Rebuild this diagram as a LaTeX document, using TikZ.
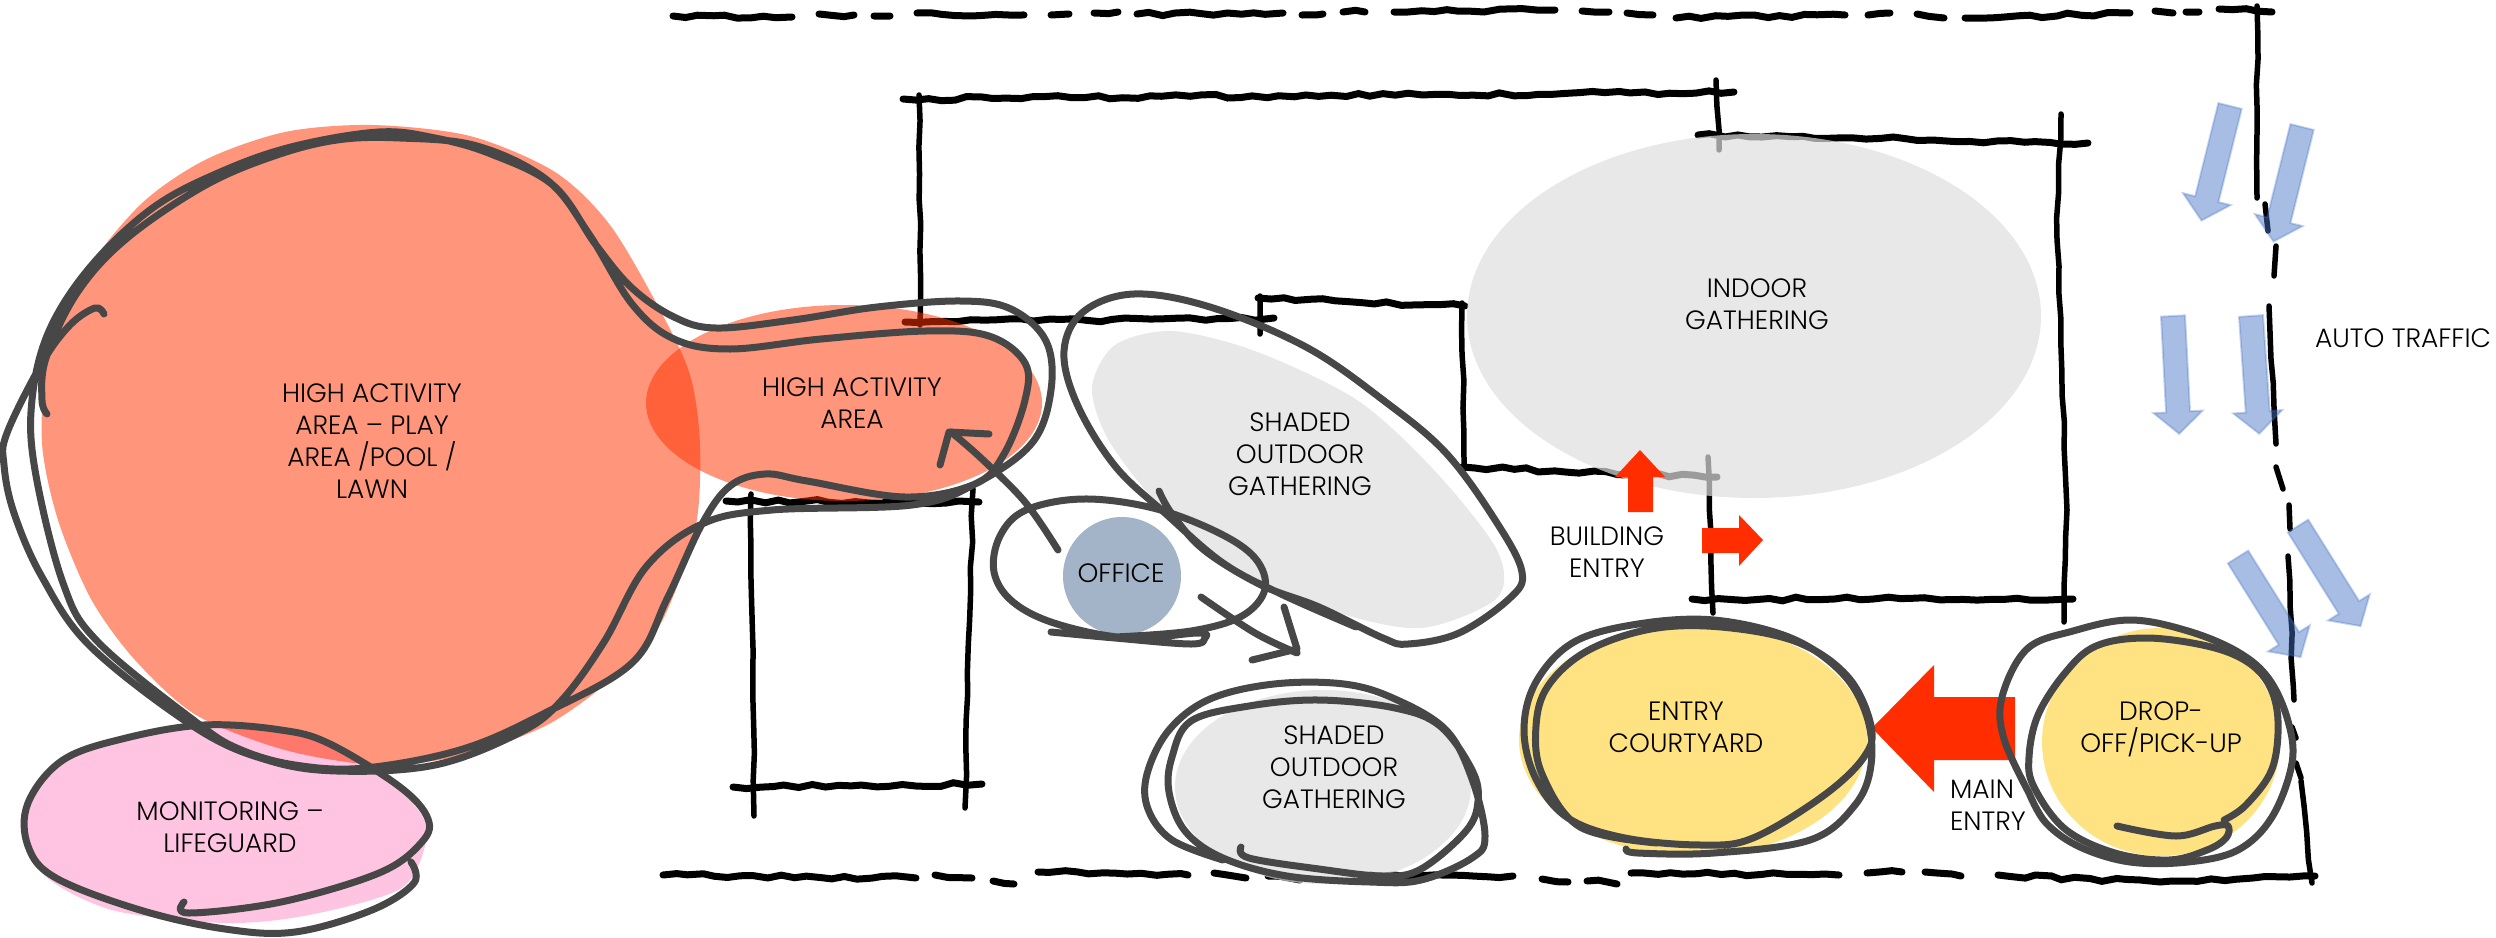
\documentclass[tikz,border=0pt]{standalone}
\usepackage{fontspec}
\setmainfont{Poppins Light}
\usetikzlibrary{decorations.pathmorphing}
\definecolor{sketchgrey}{HTML}{474747}
\definecolor{hotred}{HTML}{FF3300}
\definecolor{arrowred}{HTML}{FF2D00}
\definecolor{pinkzone}{HTML}{FFC4E1}
\definecolor{yellowzone}{HTML}{FFE382}
\definecolor{officeblue}{HTML}{A4B4C8}
\definecolor{carblue}{HTML}{4472C4}
\tikzset{
  wall/.style={line width=7pt,line cap=round,decorate,decoration={random steps,segment length=13,amplitude=2}},
  wallthin/.style={wall,line width=5.5pt,decoration={random steps,segment length=26,amplitude=1.2}},
  scribble/.style={draw=sketchgrey,line width=7pt,line cap=round,line join=round},
  activezone/.style={fill=hotred,fill opacity=.52},
  greyzone/.style={fill={rgb,255:red,222;green,222;blue,222},fill opacity=.7},
  zonetext/.style={align=center,yshift=2.5pt,font=\fontsize{26.5}{32}\selectfont,text=black},
  trafficarrow/.pic={
    \filldraw[fill=carblue,draw=carblue,fill opacity=.47,draw opacity=.3,line width=2pt]
      (-12,0) -- (12,0) -- (12,96) -- (24.5,96) -- (0,118) -- (-24.5,96) -- (-12,96) -- cycle;
  }
}
\pgfmathsetseed{27}
\begin{document}
\begin{tikzpicture}[x=1pt,y=-1pt]
  \useasboundingbox (0,0) rectangle (2496,937);
  % site line
  \draw[wall] (673,16) -- (792,17) (819,14) -- (854,15) (874,16) -- (890,16) (917,13) -- (1024,15)
    (1051,15) -- (1069,14) (1094,13) -- (1118,12) (1137,14) -- (1283,13) (1302,15) -- (1323,14)
    (1343,12) -- (1365,12) (1394,12) -- (1555,10) (1582,11) -- (1609,12) (1627,13) -- (1653,15)
    (1676,18) -- (1845,15) (1868,15) -- (1890,13) (1917,14) -- (1944,18) (1965,18) -- (2130,13)
    (2155,11) -- (2173,13) (2186,12) -- (2199,12) (2219,9) -- (2272,12);
  \draw[wallthin] (2257,6) -- (2257,198) (2265,204) -- (2268,231) (2276,246) -- (2274,276)
    (2269,306) -- (2276,444) (2276,467) -- (2283,489) (2289,505) -- (2290,529) (2288,556) -- (2294,700)
    (2292,727) -- (2296,738) (2296,763) -- (2301,778) (2301,781) -- (2312,883);
  \draw[wall] (663,875) -- (916,878) (935,875) -- (972,878) (993,881) -- (1014,884) (1038,872) -- (1188,875)
    (1214,873) -- (1246,878) (1268,876) -- (1300,880) (1370,875) -- (1513,876) (1542,879) -- (1568,882)
    (1587,881) -- (1617,884) (1631,873) -- (1839,875) (1867,873) -- (1902,872) (1925,872) -- (1961,876)
    (1998,875) -- (2160,882) -- (2315,876);
  % building
  \draw[wall] (903,99) -- (1734,92) (905,322) -- (1274,318) (1258,298) -- (1465,306)
    (1462,467) -- (1717,477) (1698,135) -- (2088,143) (1692,599) -- (2073,599)
    (726,501) -- (979,502) (733,787) -- (982,784);
  \draw[wallthin] (919,95) -- (920,325) (1716,80) -- (1719,150) (1260,296) -- (1260,334)
    (1462,303) -- (1464,466) (1708,457) -- (1713,613) (2061,114) -- (2057,240) -- (2067,510) -- (2064,622)
    (751,494) -- (754,816) (973,489) -- (965,808);
  % zones
  \fill[pinkzone] plot[smooth cycle] coordinates {(204,725) (302,733) (372,765) (421,814) (425,846) (400,889) (309,915) (225,923) (112,910) (42,873) (25,819) (42,776) (91,749) (154,730)};
  \fill[activezone] plot[smooth cycle] coordinates {(372,125) (470,136) (555,172) (610,225) (660,310) (690,375) (700,445) (695,530) (660,625) (610,680) (547,725) (465,755) (379,765) (285,750) (196,715) (135,660) (91,599) (58,520) (42,443) (48,360) (80,280) (140,205) (205,160) (285,132)};
  \fill[activezone] (844,403) ellipse (198 and 98);
  \fill[greyzone] (1754,316) ellipse (287 and 182);
  \fill[greyzone] plot[smooth cycle] coordinates {(1172,331) (1255,351) (1357,400) (1434,470) (1497,550) (1497,598) (1421,628) (1332,611) (1242,572) (1159,505) (1108,439) (1092,387) (1115,345)};
  \fill[greyzone] (1323,787) ellipse (148 and 97);
  \fill[officeblue] (1122,576) ellipse (59 and 59);
  \fill[yellowzone] (1693,740) ellipse (174 and 116);
  \fill[yellowzone] (2161,742) ellipse (119 and 114);
  % entry arrows
  \fill[arrowred] (1640,450) -- (1665,477) -- (1653,477) -- (1653,512) -- (1628,512) -- (1628,477) -- (1615,477) -- cycle;
  \fill[arrowred] (1702,528) -- (1739,528) -- (1739,515) -- (1763,540) -- (1739,566) -- (1739,553) -- (1702,553) -- cycle;
  \fill[arrowred] (1872,728) -- (1934,665) -- (1934,697) -- (2015,697) -- (2015,760) -- (1934,760) -- (1934,792) -- cycle;
  % traffic
  \pic[rotate=-14] at (2230,106) {trafficarrow};
  \pic[rotate=-14] at (2302,127) {trafficarrow};
  \pic[rotate=3] at (2173,316) {trafficarrow};
  \pic[rotate=4] at (2251,316) {trafficarrow};
  \pic[rotate=32] at (2238,557) {trafficarrow};
  \pic[rotate=32] at (2298,526) {trafficarrow};
  % scribbles
  \draw[scribble] plot[smooth,tension=.6] coordinates {(104,314) (95,308) (70,325) (42,363) (7,433) (4,465) (14,513) (42,577) (91,647) (196,728) (267,760) (337,771) (435,765) (519,733) (561,701) (604,642) (646,567) (702,524) (772,510) (912,505) (975,484) (1032,443) (1051,390) (1046,341) (1011,309) (961,301) (877,307) (793,320) (716,328) (674,317) (632,288) (596,245) (554,186) (491,154) (435,138) (379,132) (295,146) (225,170) (154,207) (91,266) (49,331) (32,400) (35,470) (63,583) (98,642) (196,722) (239,749) (295,765) (365,768) (463,749) (547,712) (632,663) (667,599) (702,524) (730,486) (765,474) (807,481) (905,497) (975,484) (1004,454) (1025,400) (1025,363) (989,336) (926,331) (821,339) (730,349) (674,339) (632,304) (589,234) (547,180) (477,146) (400,138) (337,140) (274,156) (204,186) (126,239) (77,293) (46,358) (42,400) (47,414)};
  \draw[scribble] plot[smooth,tension=.6] coordinates {(184,902) (189,913) (281,902) (379,873) (421,843) (428,819) (400,787) (330,744) (281,730) (204,725) (126,738) (63,760) (28,803) (28,846) (56,878) (140,910) (225,929) (295,932) (372,910) (414,883) (411,862)};
  \draw[scribble] plot[smooth,tension=.6] coordinates {(1058,550) (1025,502) (982,459) (951,432)};
  \draw[scribble] (940,465) -- (949,432) -- (989,434);
  \draw[scribble] plot[smooth,tension=.6] coordinates {(1159,491) (1172,514) (1204,550) (1261,585) (1319,607) (1383,638) (1408,644) (1459,633) (1510,598) (1522,572) (1497,523) (1446,453) (1383,400) (1306,347) (1210,307) (1134,294) (1083,312) (1064,351) (1077,404) (1115,466) (1166,514) (1223,563) (1281,594) (1356,627)};
  \draw[scribble] plot[smooth,tension=.6] coordinates {(1051,632) (1115,638) (1191,644) (1205,638) (1198,633) (1128,638) (1057,624) (1013,602) (994,572) (1000,536) (1026,510) (1083,499) (1153,508) (1217,532) (1255,558) (1265,589) (1242,616) (1191,631) (1115,637)};
  \draw[scribble] plot[smooth,tension=.6] coordinates {(1201,597) (1255,633) (1297,653)};
  \draw[scribble] (1252,660) -- (1297,649) -- (1284,607);
  \draw[scribble] plot[smooth,tension=.6] coordinates {(1241,847) (1249,858) (1319,869) (1383,876) (1421,869) (1466,831) (1478,801) (1472,770) (1440,726) (1395,708) (1319,700) (1249,706) (1191,721) (1172,757) (1169,792) (1185,831) (1223,858) (1287,876) (1370,882) (1421,880) (1472,858) (1485,836) (1472,779) (1446,730) (1395,699) (1344,684) (1274,684) (1210,699) (1169,730) (1147,774) (1148,809) (1172,840) (1223,860)};
  \draw[scribble] plot[smooth,tension=.6] coordinates {(1626,849) (1638,853) (1714,853) (1810,840) (1855,805) (1871,765) (1867,717) (1842,673) (1791,638) (1714,620) (1638,624) (1574,642) (1536,682) (1524,730) (1536,779) (1568,818) (1625,838) (1702,845) (1753,838) (1823,796) (1864,757) (1871,726) (1848,677) (1797,642) (1721,627) (1651,629) (1587,651) (1548,686) (1536,726) (1542,774) (1580,827) (1657,843)};
  \draw[scribble] plot[smooth,tension=.6] coordinates {(2117,826) (2176,836) (2215,826) (2228,826) (2226,838) (2207,850) (2169,860) (2115,853) (2065,829) (2034,787) (2029,757) (2038,715) (2065,673) (2096,646) (2146,638) (2207,646) (2246,661) (2269,685) (2278,721) (2272,769) (2246,805) (2224,820)};
  \draw[scribble] plot[smooth,tension=.6] coordinates {(2029,793) (2004,739) (2002,697) (2027,649) (2073,631) (2130,620) (2188,631) (2238,652) (2269,679) (2288,721) (2292,763) (2272,817) (2238,850) (2188,862) (2130,862) (2080,847) (2046,823) (2029,793)};
  % labels
  \node[zonetext] (playarea) at (372,444) {HIGH ACTIVITY\\AREA -- PLAY\\AREA /POOL /\\LAWN};
  \node[zonetext] (activearea) at (852,406) {HIGH ACTIVITY\\AREA};
  \node[zonetext] (lifeguard) at (230,830) {MONITORING --\\LIFEGUARD};
  \node[zonetext] (shadedupper) at (1300,457) {SHADED\\OUTDOOR\\GATHERING};
  \node[zonetext] (office) at (1121,576) {OFFICE};
  \node[zonetext] (shadedlower) at (1334,770) {SHADED\\OUTDOOR\\GATHERING};
  \node[zonetext] (indoor) at (1757,307) {INDOOR\\GATHERING};
  \node[zonetext] (buildingentry) at (1607,555) {BUILDING\\ENTRY};
  \node[zonetext] (courtyard) at (1686,730) {ENTRY\\COURTYARD};
  \node[zonetext] (dropoff) at (2161,732) {DROP-\\OFF/PICK-UP};
  \node[zonetext,align=left] (mainentry) at (1988,808) {MAIN\\ENTRY};
  \node[zonetext] (autotraffic) at (2403,341) {AUTO TRAFFIC};
\end{tikzpicture}
\end{document}
